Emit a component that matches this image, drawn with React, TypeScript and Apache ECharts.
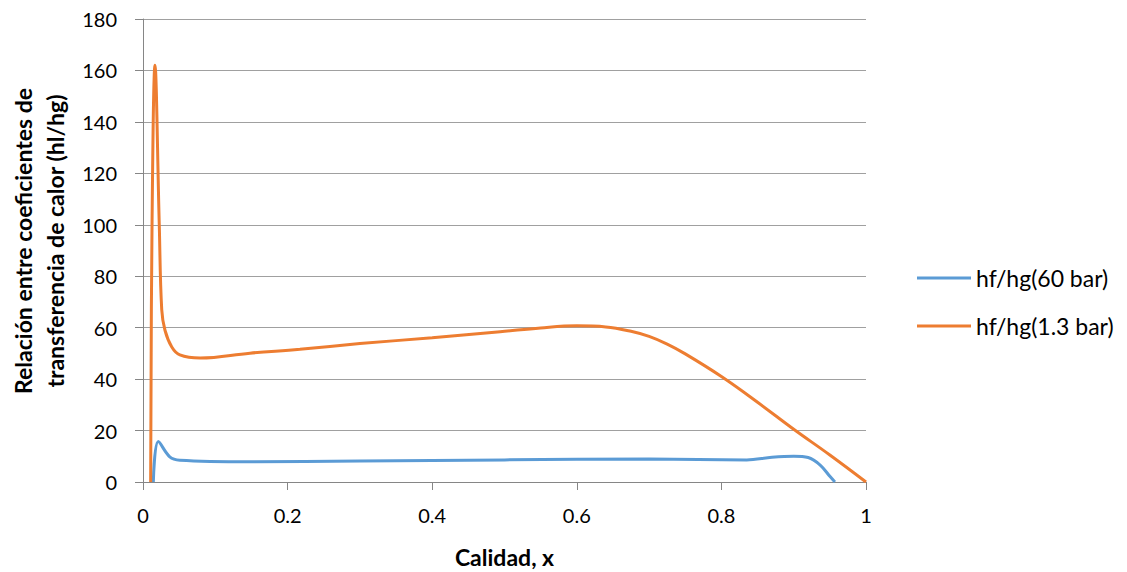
import React, { useEffect, useRef } from "react";
import * as echarts from "echarts";

const seriesNames = ["hf/hg(60 bar)", "hf/hg(1.3 bar)"];

const blueX = [0.0143, 0.0212, 0.037, 0.051, 0.148, 0.3, 0.5, 0.7, 0.835, 0.87, 0.9, 0.92, 0.937, 0.95, 0.957];
const blueY = [0, 15.7, 9.8, 8.5, 7.9, 8.2, 8.6, 8.9, 8.6, 9.6, 10.0, 9.5, 6.5, 2.2, 0];

const orangeX = [0.0106, 0.0125, 0.0166, 0.0225, 0.0259, 0.0304, 0.0398, 0.051, 0.079, 0.148, 0.217, 0.3, 0.4, 0.494, 0.55, 0.6, 0.64, 0.675, 0.7, 0.725, 0.75, 0.8, 0.85, 0.9, 0.95, 1.0];
const orangeY = [0, 100, 162, 100, 67, 59, 52.5, 49.4, 48.2, 50.1, 51.6, 53.8, 56.1, 58.4, 59.9, 60.7, 60.3, 58.6, 56.6, 53.6, 49.8, 41.0, 31.0, 20.5, 10.5, 0];

const xTicks = [0, 0.2, 0.4, 0.6, 0.8, 1];
const yTicks = [0, 20, 40, 60, 80, 100, 120, 140, 160, 180];

const xTitle = "Calidad, x";
const yTitle = "Relación entre coeficientes de\ntransferencia de calor (hl/hg)";

const FONT = "Lato, 'Open Sans', sans-serif";

export default function App() {
  const ref = useRef<HTMLDivElement>(null);
  useEffect(() => {
    if (!ref.current) return;
    const chart = echarts.init(ref.current, undefined, { renderer: "svg" });
    const zip = (xs: number[], ys: number[]) => xs.map((x, i) => [x, ys[i]]);
    chart.setOption({
      animation: false,
      backgroundColor: "#ffffff",
      grid: { left: 143, right: 261, top: 19, bottom: 90, outerBoundsMode: "none", containLabel: false },
      legend: {
        orient: "vertical",
        left: 912,
        top: 261,
        itemWidth: 54,
        itemHeight: 14,
        itemGap: 24,
        textStyle: { fontFamily: FONT, fontSize: 23, lineHeight: 24, color: "#000" },
        data: seriesNames.map((n) => ({ name: n, icon: "path://M0,0 L54,0 L54,3 L0,3 Z" })),
      },
      graphic: [
        {
          type: "text",
          x: 39,
          y: 241,
          rotation: Math.PI / 2,
          style: {
            text: yTitle,
            fontFamily: FONT,
            fontSize: 23,
            fontWeight: "bold",
            lineHeight: 32,
            fill: "#000",
            align: "center",
            verticalAlign: "middle",
          },
        },
      ],
      xAxis: {
        type: "value",
        min: xTicks[0],
        max: xTicks[xTicks.length - 1],
        interval: 0.2,
        name: xTitle,
        nameLocation: "middle",
        nameGap: 63,
        nameTextStyle: { fontFamily: FONT, fontSize: 23, fontWeight: "bold", color: "#000" },
        axisLine: { lineStyle: { color: "#868686", width: 1 } },
        axisTick: { show: true, length: 8, lineStyle: { color: "#868686" } },
        axisLabel: {
          fontFamily: FONT,
          fontSize: 20,
          color: "#000",
          margin: 23,
          formatter: (v: number) => String(Math.round(v * 10) / 10),
        },
        splitLine: { show: false },
      },
      yAxis: {
        type: "value",
        min: yTicks[0],
        max: yTicks[yTicks.length - 1],
        interval: 20,
        axisLine: { show: true, lineStyle: { color: "#868686", width: 1 } },
        axisTick: { show: true, length: 8, lineStyle: { color: "#868686" } },
        axisLabel: { fontFamily: FONT, fontSize: 20, color: "#000", margin: 26 },
        splitLine: { show: true, lineStyle: { color: "#a0a0a0", width: 1 } },
      },
      series: [
        {
          name: seriesNames[0],
          type: "line",
          data: zip(blueX, blueY),
          smooth: 0.35,
          showSymbol: false,
          lineStyle: { color: "#5B9BD5", width: 3 },
          itemStyle: { color: "#5B9BD5" },
        },
        {
          name: seriesNames[1],
          type: "line",
          data: zip(orangeX, orangeY),
          smooth: 0.4,
          showSymbol: false,
          lineStyle: { color: "#ED7D31", width: 3 },
          itemStyle: { color: "#ED7D31" },
        },
      ],
    });
    return () => chart.dispose();
  }, []);
  return <div ref={ref} style={{ width: 1127, height: 572, position: "absolute", left: 0, top: 0 }} />;
}
